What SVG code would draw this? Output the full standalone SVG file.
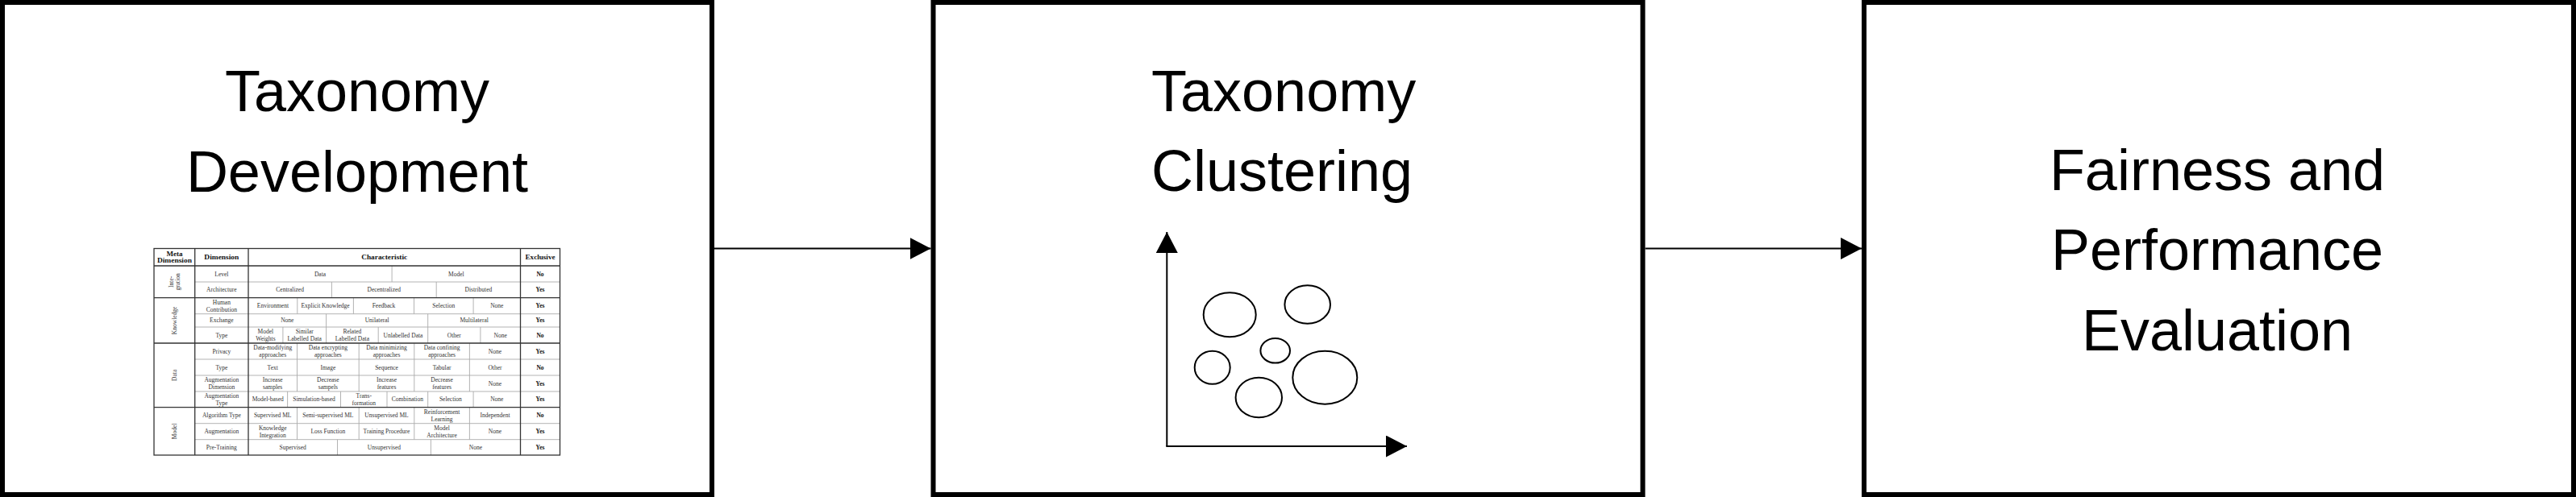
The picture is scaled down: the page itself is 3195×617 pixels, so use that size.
<svg xmlns="http://www.w3.org/2000/svg" width="3195" height="617" viewBox="0 0 3195 617">
<style>
.box{fill:#fff;stroke:#000;stroke-width:6}
.title{font-family:"Liberation Sans",Arial,sans-serif;font-size:72px;fill:#000}
.conn{stroke:#000;stroke-width:2;fill:none}
.ell{fill:none;stroke:#000;stroke-width:2}
.tb{font-family:"Liberation Serif","Times New Roman",serif;font-size:7.5px;fill:#333;text-anchor:middle}
.tbb{font-family:"Liberation Serif","Times New Roman",serif;font-size:7.5px;font-weight:bold;fill:#111;text-anchor:middle}
.th{font-family:"Liberation Serif","Times New Roman",serif;font-size:8.6px;font-weight:bold;fill:#111;text-anchor:middle}
.maj{stroke:#333;stroke-width:1.3;fill:none}
.min{stroke:#aaa;stroke-width:0.9;fill:none}
</style>
<defs>
<marker id="ah" markerUnits="userSpaceOnUse" markerWidth="28" markerHeight="28" refX="26" refY="13.5" orient="auto">
<path d="M0,0 L26,13.5 L0,27 Z" fill="#000"/>
</marker>
</defs>
<rect width="3195" height="617" fill="#fff"/>

<g id="node-taxonomy-development">
<rect class="box" x="3" y="3" width="880" height="611"/>
<text class="title" x="443" y="138" text-anchor="middle">Taxonomy</text>
<text class="title" x="443" y="238" text-anchor="middle">Development</text>
<g id="taxonomy-table">
<rect x="191" y="308.5" width="503.5" height="256.5" fill="#fff"/>
<path class="min" d="M241.7,350H694.5M241.7,389.7H694.5M241.7,406H694.5M241.7,446H694.5M241.7,466H694.5M241.7,486H694.5M241.7,525.7H694.5M241.7,545.7H694.5
M486.1,330V350
M411.4,350V369.7M541.2,350V369.7
M368.8,369.7V389.7M438.4,369.7V389.7M513.5,369.7V389.7M587.1,369.7V389.7
M404.6,389.7V406M530.7,389.7V406
M350.9,406V426M404.6,406V426M469.2,406V426M530.7,406V426M595.9,406V426
M368.5,426V486M445.2,426V486M513.8,426V486M582.4,426V486
M356.6,486V505.7M422.5,486V505.7M480,486V505.7M530.7,486V505.7M587.1,486V505.7
M368.5,505.7V545.7M445.2,505.7V545.7M513.8,505.7V545.7M582.4,505.7V545.7
M418.5,545.7V565M534.4,545.7V565"/>
<path class="maj" d="M191,330H694.5M191,369.7H694.5M191,426H694.5M191,505.7H694.5M241.7,308.5V565M308,308.5V565M645.5,308.5V565"/>
<rect class="maj" x="191" y="308.5" width="503.5" height="256.5"/>

<text class="th" x="216.4" y="317.5" textLength="20" lengthAdjust="spacingAndGlyphs">Meta</text>
<text class="th" x="216.4" y="326.2" textLength="43" lengthAdjust="spacingAndGlyphs">Dimension</text>
<text class="th" x="274.85" y="321.9" textLength="43" lengthAdjust="spacingAndGlyphs">Dimension</text>
<text class="th" x="476.7" y="321.9" textLength="57" lengthAdjust="spacingAndGlyphs">Characteristic</text>
<text class="th" x="670" y="321.9" textLength="37" lengthAdjust="spacingAndGlyphs">Exclusive</text>

<text class="tb" transform="translate(216.4,349.85) rotate(-90)"><tspan x="0" y="-1.75">Inte-</tspan><tspan x="0" y="6.95">gration</tspan></text>
<text class="tb" transform="translate(219,397.85) rotate(-90)" x="0" y="0">Knowledge</text>
<text class="tb" transform="translate(219,465.85) rotate(-90)" x="0" y="0">Data</text>
<text class="tb" transform="translate(219,535.35) rotate(-90)" x="0" y="0">Model</text>

<text class="tb" x="274.85" y="342.6">Level</text>
<text class="tb" x="274.85" y="362.45">Architecture</text>
<text class="tb" x="274.85" y="377.95">Human<tspan x="274.85" dy="8.7">Contribution</tspan></text>
<text class="tb" x="274.85" y="400.45">Exchange</text>
<text class="tb" x="274.85" y="418.6">Type</text>
<text class="tb" x="274.85" y="438.6">Privacy</text>
<text class="tb" x="274.85" y="458.6">Type</text>
<text class="tb" x="274.85" y="474.25">Augmentation<tspan x="274.85" dy="8.7">Dimension</tspan></text>
<text class="tb" x="274.85" y="494.1">Augmentation<tspan x="274.85" dy="8.7">Type</tspan></text>
<text class="tb" x="274.85" y="518.3">Algorithm Type</text>
<text class="tb" x="274.85" y="538.3">Augmentation</text>
<text class="tb" x="274.85" y="557.95">Pre-Training</text>

<text class="tb" x="397" y="342.6">Data</text>
<text class="tb" x="565.8" y="342.6">Model</text>

<text class="tb" x="359.65" y="362.45">Centralized</text>
<text class="tb" x="476.3" y="362.45">Decentralized</text>
<text class="tb" x="593.35" y="362.45">Distributed</text>

<text class="tb" x="338.4" y="382.3">Environment</text>
<text class="tb" x="403.6" y="382.3">Explicit Knowledge</text>
<text class="tb" x="476" y="382.3">Feedback</text>
<text class="tb" x="550.3" y="382.3">Selection</text>
<text class="tb" x="616.3" y="382.3">None</text>

<text class="tb" x="356.25" y="400.45">None</text>
<text class="tb" x="467.65" y="400.45">Unilateral</text>
<text class="tb" x="588.1" y="400.45">Multilateral</text>

<text class="tb" x="329.4" y="414.25">Model<tspan x="329.4" dy="8.7">Weights</tspan></text>
<text class="tb" x="377.75" y="414.25">Similar<tspan x="377.75" dy="8.7">Labelled Data</tspan></text>
<text class="tb" x="436.9" y="414.25">Related<tspan x="436.9" dy="8.7">Labelled Data</tspan></text>
<text class="tb" x="499.95" y="418.6">Unlabelled Data</text>
<text class="tb" x="563.3" y="418.6">Other</text>
<text class="tb" x="620.7" y="418.6">None</text>

<text class="tb" x="338.2" y="434.25">Data-modifying<tspan x="338.2" dy="8.7">approaches</tspan></text>
<text class="tb" x="406.85" y="434.25">Data encrypting<tspan x="406.85" dy="8.7">approaches</tspan></text>
<text class="tb" x="479.5" y="434.25">Data minimizing<tspan x="479.5" dy="8.7">approaches</tspan></text>
<text class="tb" x="548.1" y="434.25">Data confining<tspan x="548.1" dy="8.7">approaches</tspan></text>
<text class="tb" x="613.95" y="438.6">None</text>

<text class="tb" x="338.2" y="458.6">Text</text>
<text class="tb" x="406.85" y="458.6">Image</text>
<text class="tb" x="479.5" y="458.6">Sequence</text>
<text class="tb" x="548.1" y="458.6">Tabular</text>
<text class="tb" x="613.95" y="458.6">Other</text>

<text class="tb" x="338.2" y="474.25">Increase<tspan x="338.2" dy="8.7">samples</tspan></text>
<text class="tb" x="406.85" y="474.25">Decrease<tspan x="406.85" dy="8.7">sampels</tspan></text>
<text class="tb" x="479.5" y="474.25">Increase<tspan x="479.5" dy="8.7">features</tspan></text>
<text class="tb" x="548.1" y="474.25">Decrease<tspan x="548.1" dy="8.7">features</tspan></text>
<text class="tb" x="613.95" y="478.6">None</text>

<text class="tb" x="332.25" y="498.45">Model-based</text>
<text class="tb" x="389.55" y="498.45">Simulation-based</text>
<text class="tb" x="451.25" y="494.1">Trans-<tspan x="451.25" dy="8.7">formation</tspan></text>
<text class="tb" x="505.35" y="498.45">Combination</text>
<text class="tb" x="558.9" y="498.45">Selection</text>
<text class="tb" x="616.3" y="498.45">None</text>

<text class="tb" x="338.2" y="518.3">Supervised ML</text>
<text class="tb" x="406.85" y="518.3">Semi-supervised ML</text>
<text class="tb" x="479.5" y="518.3">Unsupervised ML</text>
<text class="tb" x="548.1" y="513.95">Reinforcement<tspan x="548.1" dy="8.7">Learning</tspan></text>
<text class="tb" x="613.95" y="518.3">Independent</text>

<text class="tb" x="338.2" y="533.95">Knowledge<tspan x="338.2" dy="8.7">Integration</tspan></text>
<text class="tb" x="406.85" y="538.3">Loss Function</text>
<text class="tb" x="479.5" y="538.3">Training Procedure</text>
<text class="tb" x="548.1" y="533.95">Model<tspan x="548.1" dy="8.7">Architecture</tspan></text>
<text class="tb" x="613.95" y="538.3">None</text>

<text class="tb" x="363.2" y="557.95">Supervised</text>
<text class="tb" x="476.45" y="557.95">Unsupervised</text>
<text class="tb" x="589.95" y="557.95">None</text>

<text class="tbb" x="670" y="342.6">No</text>
<text class="tbb" x="670" y="362.45">Yes</text>
<text class="tbb" x="670" y="382.3">Yes</text>
<text class="tbb" x="670" y="400.45">Yes</text>
<text class="tbb" x="670" y="418.6">No</text>
<text class="tbb" x="670" y="438.6">Yes</text>
<text class="tbb" x="670" y="458.6">No</text>
<text class="tbb" x="670" y="478.6">Yes</text>
<text class="tbb" x="670" y="498.45">Yes</text>
<text class="tbb" x="670" y="518.3">No</text>
<text class="tbb" x="670" y="538.3">Yes</text>
<text class="tbb" x="670" y="557.95">Yes</text>
</g>
</g>

<g id="node-taxonomy-clustering">
<rect class="box" x="1157.5" y="3" width="880" height="611"/>
<text class="title" x="1428" y="137.5">Taxonomy</text>
<text class="title" x="1428" y="237">Clustering</text>
<g id="cluster-plot">
<line class="conn" x1="1447.3" y1="554" x2="1447.3" y2="288" marker-end="url(#ah)"/>
<line class="conn" x1="1446.3" y1="554" x2="1745" y2="554" marker-end="url(#ah)"/>
<ellipse class="ell" cx="1525.2" cy="390.8" rx="32.5" ry="27.5"/>
<ellipse class="ell" cx="1621.7" cy="378" rx="28.3" ry="23.7"/>
<ellipse class="ell" cx="1581.7" cy="435.3" rx="18.3" ry="15.3"/>
<ellipse class="ell" cx="1503.7" cy="456.2" rx="22" ry="20.5"/>
<ellipse class="ell" cx="1561.3" cy="493.5" rx="28.7" ry="24.8"/>
<ellipse class="ell" cx="1643.3" cy="468.7" rx="40" ry="33"/>
</g>
</g>

<g id="node-fairness-evaluation">
<rect class="box" x="2312" y="3" width="880" height="611"/>
<text class="title" x="2750" y="236" text-anchor="middle">Fairness and</text>
<text class="title" x="2750" y="335" text-anchor="middle">Performance</text>
<text class="title" x="2750" y="435" text-anchor="middle">Evaluation</text>
</g>

<g id="connectors">
<line class="conn" x1="886" y1="308.5" x2="1154.5" y2="308.5" marker-end="url(#ah)"/>
<line class="conn" x1="2040.5" y1="308.5" x2="2309" y2="308.5" marker-end="url(#ah)"/>
</g>
</svg>
